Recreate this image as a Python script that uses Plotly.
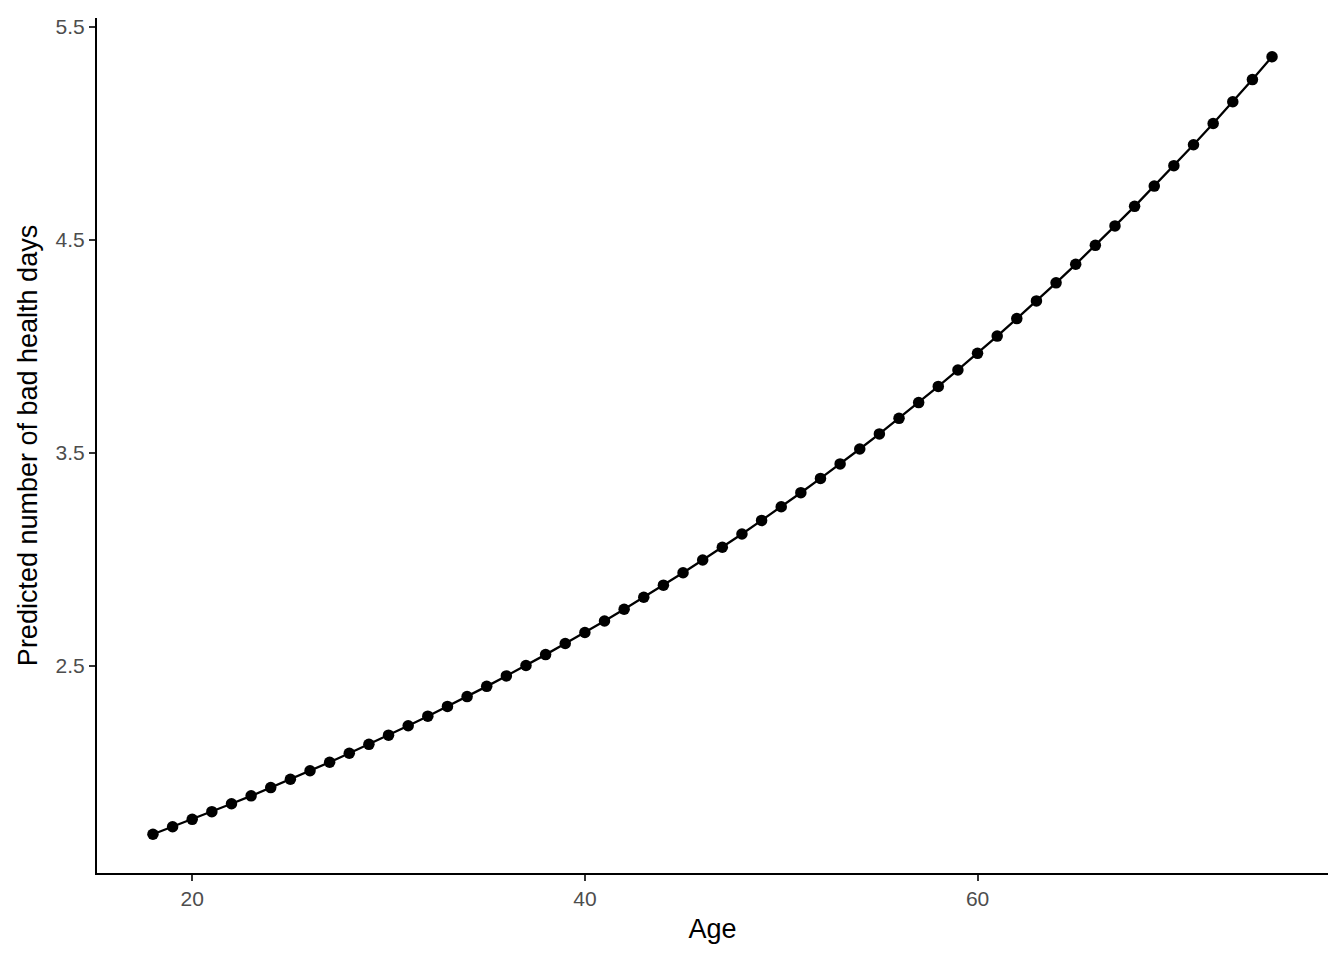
import plotly.graph_objects as go

ages = list(range(18, 76))
predicted = [1.710, 1.745, 1.780, 1.816, 1.853, 1.890, 1.929, 1.968, 2.008, 2.048,
             2.090, 2.132, 2.175, 2.219, 2.264, 2.310, 2.356, 2.404, 2.453, 2.502,
             2.553, 2.605, 2.657, 2.711, 2.766, 2.822, 2.879, 2.937, 2.997, 3.057,
             3.119, 3.183, 3.247, 3.313, 3.380, 3.448, 3.518, 3.589, 3.662, 3.736,
             3.812, 3.889, 3.967, 4.048, 4.130, 4.213, 4.298, 4.385, 4.474, 4.565,
             4.657, 4.752, 4.848, 4.946, 5.046, 5.148, 5.252, 5.359]
x_ticks = [20, 40, 60]
y_ticks = [2.5, 3.5, 4.5, 5.5]

fig = go.Figure()
fig.add_trace(go.Scatter(x=ages, y=predicted, mode="lines+markers",
                         line=dict(color="black", width=2.3),
                         marker=dict(color="black", size=11.5),
                         showlegend=False))

axis_common = dict(showgrid=False, zeroline=False, showline=True, linecolor="black",
                   linewidth=2, ticks="outside", ticklen=6, tickcolor="#333333",
                   tickwidth=2, ticklabeloverflow="allow",
                   tickfont=dict(family="Liberation Sans, Arial", size=21, color="#4D4D4D"))

fig.update_layout(
    width=1344, height=960,
    paper_bgcolor="white", plot_bgcolor="white",
    margin=dict(l=89, r=24, t=7, b=95),
    xaxis=dict(range=[15.15, 77.85], tickvals=x_ticks,
               title=dict(text="Age", font=dict(family="Liberation Sans, Arial", size=27, color="black"), standoff=10),
               **axis_common),
    yaxis=dict(range=[1.528, 5.541], tickvals=y_ticks, ticktext=["2.5", "3.5", "4.5", "5.5"],
               title=dict(text="Predicted number of bad health days", font=dict(family="Liberation Sans, Arial", size=27, color="black"), standoff=10),
               **axis_common),
)

fig.write_html("out.html")
